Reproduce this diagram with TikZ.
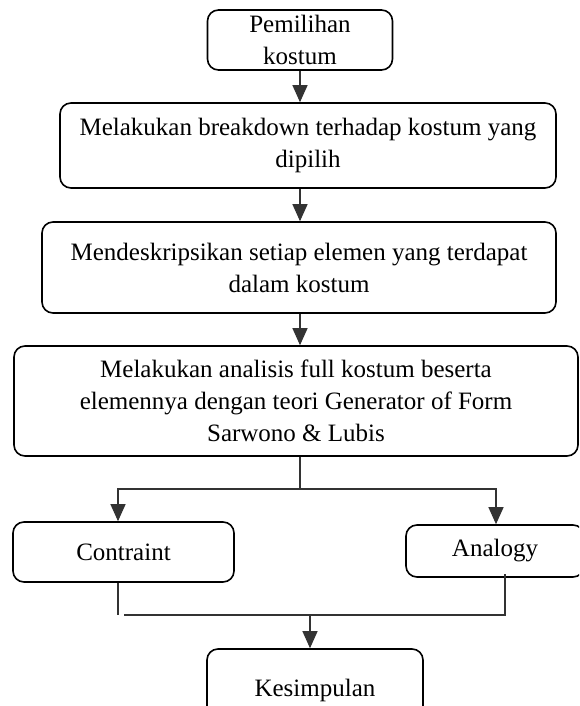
\documentclass[tikz,border=0pt]{standalone}
\usepackage{fontspec}
\setmainfont{Liberation Serif}
\usepackage{tikz}
\usetikzlibrary{positioning,arrows.meta}

\begin{document}
\begin{tikzpicture}[x=1pt,y=-1pt,>={Triangle[length=17pt,width=15pt]},
  font=\fontsize{25}{32}\selectfont,
  stepbox/.style={draw,rounded corners=11pt,line width=1.6pt,align=center,inner sep=0pt},
  link/.style={line width=1.1pt,draw=black!80}]
\useasboundingbox (0,0) rectangle (579,706);
\clip (0,0) rectangle (579,706);
\node[stepbox,minimum width=185pt,minimum height=60pt] (pil) at (300,40) {Pemilihan\\kostum};
\node[stepbox,minimum width=496pt,minimum height=85pt] (brk) at (308,145.5) {Melakukan breakdown terhadap kostum yang\\dipilih};
\node[stepbox,minimum width=514pt,minimum height=91pt] (dsk) at (299,267.5) {Mendeskripsikan setiap elemen yang terdapat\\dalam kostum};
\node[stepbox,minimum width=564pt,minimum height=110pt] (anl) at (296,401) {Melakukan analisis full kostum beserta\\elemennya dengan teori Generator of Form\\Sarwono \& Lubis};
\node[stepbox,minimum width=221pt,minimum height=60pt] (con) at (123.5,552) {Contraint};
\node[stepbox,minimum width=178pt,minimum height=52pt] (alg) at (495,551) {Analogy};
\node[stepbox,minimum width=216pt,minimum height=82pt] (kes) at (315,690) {Kesimpulan};
% alur utama
\draw[link,->] (pil.south) -- (pil.south |- brk.north);
\draw[link,->] (brk.south -| pil) -- (pil |- dsk.north);
\draw[link,->] (dsk.south -| pil) -- (pil |- anl.north);
% percabangan
\coordinate (jt) at (300,489);
\coordinate (bl) at (118,489);
\coordinate (br) at (496,489);
\draw[link] (anl.south -| jt) -- (jt);
\draw[link,->] (jt) -- (bl) -- (bl |- con.north);
\draw[link,->] (jt) -- (br) -- (br |- alg.north);
% gabungan
\coordinate (jl) at (118,615);
\coordinate (jr) at (505,615);
\coordinate (jm) at (310,615);
\draw[link] (con.south -| jl) -- (jl);
\draw[link] ([xshift=6pt]jl) -- (jr) -- ([yshift=4pt]jr |- alg.south);
\draw[link,->] (jm) -- (jm |- kes.north);
\end{tikzpicture}
\end{document}
